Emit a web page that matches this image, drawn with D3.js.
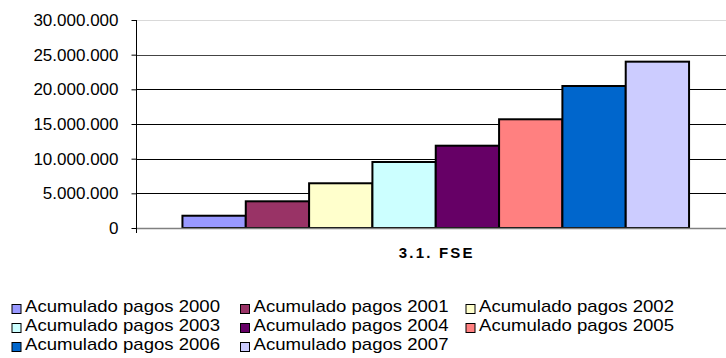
<!DOCTYPE html>
<html>
<head>
<meta charset="utf-8">
<script src="https://cdn.jsdelivr.net/npm/d3@7"></script>
<style>
  html, body { margin: 0; padding: 0; background: #fff; }
  svg { display: block; font-family: "Liberation Sans", Arial, sans-serif; }
</style>
</head>
<body>
<svg id="chart" width="726" height="358"></svg>
<script>
// Accumulated FSE payments per year (euros)
const category = "3.1. FSE";
const series = ["Acumulado pagos 2000", "Acumulado pagos 2001", "Acumulado pagos 2002",
                "Acumulado pagos 2003", "Acumulado pagos 2004", "Acumulado pagos 2005",
                "Acumulado pagos 2006", "Acumulado pagos 2007"];
const values = [1770000, 3850000, 6450000, 9520000, 11870000, 15680000, 20480000, 23990000];
const colors = ["#9999FF", "#993366", "#FFFFCC", "#CCFFFF", "#660066", "#FF8080", "#0066CC", "#CCCCFF"];
const yTicks = [0, 5000000, 10000000, 15000000, 20000000, 25000000, 30000000];

const svg = d3.select("#chart");

// Plot area (extends past the right edge of the canvas)
const plotLeft = 136.5, plotRight = 735, plotTop = 20, plotBottom = 228;

const y = d3.scaleLinear().domain([0, 30000000]).range([plotBottom, plotTop]);
const x0 = d3.scaleBand().domain([category]).range([plotLeft, plotRight]).paddingOuter(0.0907).paddingInner(0);
const x1 = d3.scaleBand().domain(series).range([0, x0.bandwidth()]).padding(0);

const fmt = v => d3.format(",")(v).replace(/,/g, ".");

// Gridlines
svg.append("g").selectAll("line")
  .data(yTicks.filter(t => t > 0))
  .join("line")
  .attr("x1", plotLeft).attr("x2", plotRight)
  .attr("y1", d => Math.round(y(d)) + 0.5).attr("y2", d => Math.round(y(d)) + 0.5)
  .attr("stroke", d => d === 30000000 ? "#d9d9d9" : (d === 25000000 ? "#444" : "#000"))
  .attr("stroke-width", 1);

// Bars
svg.append("g")
  .attr("transform", `translate(${x0(category)},0)`)
  .selectAll("rect")
  .data(values)
  .join("rect")
  .attr("x", (d, i) => x1(series[i]))
  .attr("y", d => y(d))
  .attr("width", x1.bandwidth())
  .attr("height", d => y(0) - y(d))
  .attr("fill", (d, i) => colors[i])
  .attr("stroke", "#000")
  .attr("stroke-width", 2);

// Category axis line
svg.append("line")
  .attr("x1", plotLeft).attr("x2", plotRight)
  .attr("y1", plotBottom + 0.5).attr("y2", plotBottom + 0.5)
  .attr("stroke", "#808080").attr("stroke-width", 1.5);

// Value axis
const yAxis = d3.axisLeft(y).tickValues(yTicks).tickSize(5).tickPadding(13).tickFormat(fmt);
const gy = svg.append("g").attr("transform", `translate(${plotLeft},0)`).call(yAxis);
gy.select(".domain").remove();
gy.append("line").attr("x1", 0).attr("x2", 0).attr("y1", plotTop).attr("y2", plotBottom + 5)
  .attr("stroke", "#000").attr("stroke-width", 1);
gy.selectAll(".tick line").attr("stroke", "#000");
gy.selectAll(".tick text")
  .attr("font-size", 17).attr("fill", "#000")
  .attr("font-family", "'Liberation Sans', Arial, sans-serif");

// Category label
svg.append("text")
  .attr("x", x0(category) + x0.bandwidth() / 2 + 1)
  .attr("y", 258)
  .attr("text-anchor", "middle")
  .attr("font-size", 15).attr("font-weight", "bold")
  .attr("letter-spacing", 2.2)
  .text(category);

// Legend
const colX = [11.5, 240, 465.5];
const rowY = [312, 331, 350];
const leg = svg.append("g").selectAll("g")
  .data(series)
  .join("g")
  .attr("transform", (d, i) => `translate(${colX[i % 3]},${rowY[Math.floor(i / 3)]})`);
leg.append("rect")
  .attr("x", 0.5).attr("y", -7.5).attr("width", 9).attr("height", 9)
  .attr("fill", (d, i) => colors[i]).attr("stroke", "#000").attr("stroke-width", 1);
leg.append("text")
  .attr("x", 13.5).attr("y", 0)
  .attr("font-size", 17)
  .attr("textLength", 195).attr("lengthAdjust", "spacingAndGlyphs")
  .text(d => d);
</script>
</body>
</html>
